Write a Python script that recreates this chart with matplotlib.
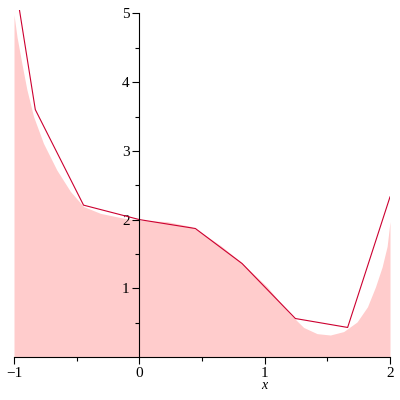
#!/usr/bin/env python3
# trapezoid_area.py

import numpy as np
import matplotlib.pyplot as plt
from matplotlib.ticker import FixedLocator

# curve (shaded area)
curve_x = [-1.0, -0.976, -0.937, -0.897, -0.844, -0.765, -0.658, -0.55, -0.445,
           -0.31, -0.125, 0.0, 0.22, 0.41, 0.487, 0.65, 0.806, 1.02, 1.205,
           1.311, 1.418, 1.524, 1.63, 1.737, 1.82, 1.884, 1.937, 1.977, 2.0]
curve_y = [4.98, 4.66, 4.27, 3.89, 3.50, 3.11, 2.72, 2.41, 2.19,
           2.09, 2.02, 1.99, 1.97, 1.90, 1.82, 1.62, 1.39, 1.02, 0.62,
           0.43, 0.34, 0.32, 0.37, 0.51, 0.73, 1.02, 1.31, 1.61, 1.97]

# approximating polyline
poly_x = [-1.0, -0.83, -0.445, 0.0, 0.447, 0.82, 1.245, 1.662, 2.0]
poly_y = [5.55, 3.60, 2.21, 2.00, 1.87, 1.36, 0.56, 0.43, 2.33]

x_major = [-1, 0, 1, 2]
x_minor = [-0.5, 0.5, 1.5]
y_major = [1, 2, 3, 4, 5]
y_minor = [0.5, 1.5, 2.5, 3.5, 4.5]


def main():
    plt.rcParams["font.family"] = ["Liberation Serif", "DejaVu Serif"]
    fig = plt.figure(figsize=(4, 4), dpi=100)
    ax = fig.add_axes([0.035, 0.1075, 0.94, 0.8675])

    ax.fill_between(curve_x, 0, curve_y, color="#ffcccc", linewidth=0)
    ax.plot(poly_x, poly_y, color="#cc0030", linewidth=0.8)

    ax.set_xlim(-1, 2)
    ax.set_ylim(0, 5.05)

    for side in ["top", "right"]:
        ax.spines[side].set_visible(False)
    ax.spines["left"].set_position(("data", 0))
    ax.spines["left"].set_bounds(0, 5)
    ax.spines["bottom"].set_bounds(-1, 2)
    for side in ["left", "bottom"]:
        ax.spines[side].set_linewidth(0.8)
        ax.spines[side].set_zorder(3)

    ax.xaxis.set_major_locator(FixedLocator(x_major))
    ax.xaxis.set_minor_locator(FixedLocator(x_minor))
    ax.yaxis.set_major_locator(FixedLocator(y_major))
    ax.yaxis.set_minor_locator(FixedLocator(y_minor))
    ax.set_xticklabels(["\u22121", "0", "1", "2"])
    ax.tick_params(which="major", length=5, width=0.8, labelsize=11, pad=2)
    ax.tick_params(which="minor", length=3, width=0.8)

    ax.text(1.0, -0.42, "x", style="italic", fontsize=10,
            ha="center", va="center")

    fig.savefig("out.png")


if __name__ == "__main__":
    main()
